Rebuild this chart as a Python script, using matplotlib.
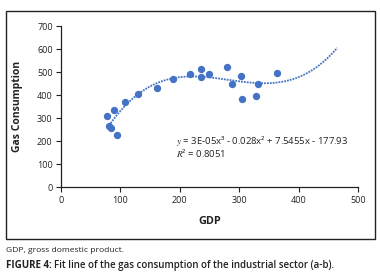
import numpy as np
import matplotlib
matplotlib.use("Agg")
import matplotlib.pyplot as plt
from matplotlib.patches import Rectangle

gdp = [78, 80, 85, 89, 95, 107, 130, 162, 188, 218, 235, 235, 249, 280, 288, 303, 305, 329, 332, 363]
gas = [309, 267, 256, 337, 227, 371, 403, 429, 468, 493, 514, 477, 493, 522, 450, 481, 383, 398, 450, 497]
trend_end = 465
x_ticks = [0, 100, 200, 300, 400, 500]
y_ticks = [0, 100, 200, 300, 400, 500, 600, 700]

plt.rcParams['font.family'] = ['Open Sans', 'DejaVu Sans']
plt.rcParams['mathtext.fontset'] = 'stix'

W, H = 380, 277
fig = plt.figure(figsize=(W / 100, H / 100), dpi=100)
fig.patch.set_facecolor('white')

# border box
fig.add_artist(Rectangle((6 / W, 1 - 239 / H), (375 - 6) / W, (239 - 11) / H,
                         transform=fig.transFigure, fill=False, edgecolor='#222222', lw=1.0))

ax = fig.add_axes([61 / W, 1 - 187.3 / H, (358 - 61) / W, (187.3 - 26) / H])
blue = '#4472C4'
ax.scatter(gdp, gas, s=28, color=blue, zorder=3, linewidths=0)

coef = np.polyfit(gdp, gas, 3)
xs = np.linspace(min(gdp), trend_end, 200)
ax.plot(xs, np.polyval(coef, xs), color=blue, lw=1.3, ls=(0, (1, 0.6)), zorder=2)

ax.set_xlim(0, 500)
ax.set_ylim(0, 700)
ax.set_xticks(x_ticks)
ax.set_yticks(y_ticks)
for s in ['top', 'right']:
    ax.spines[s].set_visible(False)
for s in ['left', 'bottom']:
    ax.spines[s].set_color('#222222')
    ax.spines[s].set_linewidth(0.9)
ax.tick_params(axis='both', direction='out', length=3.5, width=0.8, labelsize=6.5,
               colors='#222222', pad=2.5)
ax.set_xlabel('GDP', fontsize=7.8, fontweight='bold', labelpad=8, color='#222222')
ax.set_ylabel('Gas Consumption', fontsize=7.5, fontweight='bold', labelpad=10, color='#222222')

ax.text(176 / W, 1 - 141.5 / H, r'$y$ = 3E-05x³ - 0.028x² + 7.5455x - 177.93',
        transform=fig.transFigure, fontsize=6.8, va='center', ha='left', color='#222222')
ax.text(176 / W, 1 - 153 / H, r'$R$² = 0.8051',
        transform=fig.transFigure, fontsize=6.8, va='center', ha='left', color='#222222')

fig.text(6 / W, 1 - 251 / H, 'GDP, gross domestic product.', fontsize=6.1,
         va='center', ha='left', color='#222222')
t = fig.text(6 / W, 1 - 265.5 / H, 'FIGURE 4:', fontsize=7.0, fontweight='bold',
             va='center', ha='left', color='#222222')
fig.canvas.draw()
bb = t.get_window_extent()
fig.text((bb.x1 + 2.5) / W, 1 - 265.5 / H, 'Fit line of the gas consumption of the industrial sector (a-b).',
         fontsize=7.0, fontweight='semibold', va='center', ha='left', color='#222222')

fig.savefig('out.png', dpi=100, facecolor='white')
